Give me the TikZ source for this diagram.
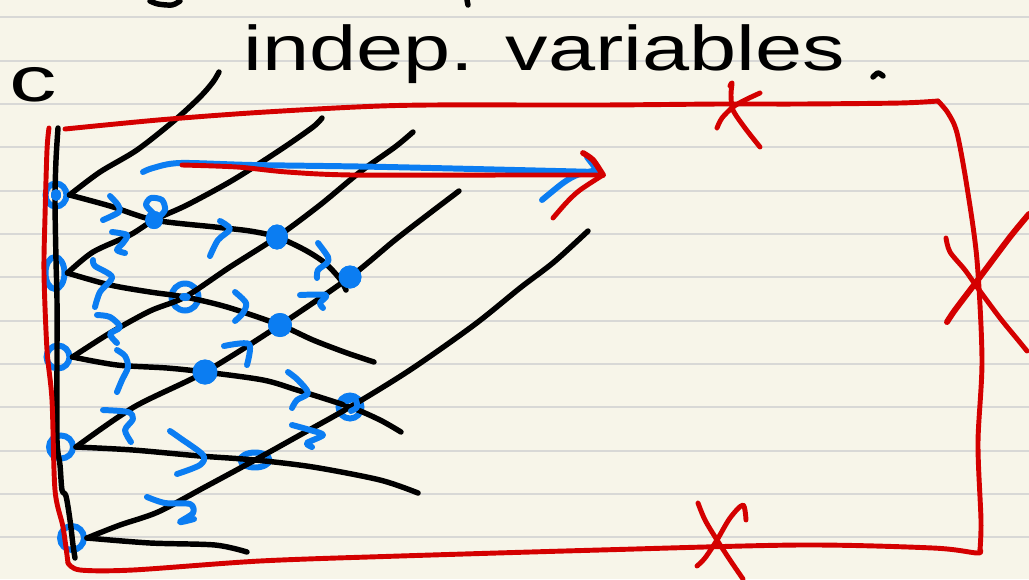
\documentclass[tikz,border=0pt]{standalone}
\usepackage{fontspec}
\newfontfamily\hand{Liberation Sans}
\usetikzlibrary{shapes.geometric}
\definecolor{paper}{HTML}{F7F5E9}
\definecolor{rule}{HTML}{D8D8D6}
\definecolor{pred}{HTML}{D40000}
\definecolor{pblue}{HTML}{0B7DF2}
\tikzset{
  ruled/.style={draw=rule, line width=1.1pt},
  ink/.style={draw=black, line width=3.1pt, line cap=round, line join=round},
  redpen/.style={draw=pred, line width=2.8pt, line cap=round, line join=round},
  bluepen/.style={draw=pblue, line width=3.4pt, line cap=round, line join=round},
  ring/.style={ellipse, draw=pblue, line width=3.4pt, inner sep=0pt},
  blob/.style={ellipse, fill=pblue, inner sep=0pt},
  handtext/.style={font=\hand\fontsize{36}{40}\selectfont, inner sep=0pt, text=black}
}
\begin{document}
\begin{tikzpicture}[x=0.02cm, y=-0.02cm]
% paper and ruling
\fill[paper] (0,0) rectangle (1029,579);
\useasboundingbox (0,0) rectangle (1029,579);
\foreach \k in {0,...,12}
  \draw[ruled] (0,17.3+43.33*\k) -- (1029,17.3+43.33*\k);

% remains of the line above
\draw[ink] plot[smooth] coordinates {(150,1) (158,4) (172,5) (180,1)};
\draw[ink] (467,0) -- (468,5);

% heading and label
\node[handtext, anchor=base west, xscale=1.34] (title) at (243,70) {indep. variables};
\node[handtext, anchor=base west, xscale=1.5] (clabel) at (9,101) {c};
\draw[ink] plot[smooth] coordinates {(873,77) (878,73) (883,76)};

% boundary nodes on the left edge
\node[ring, minimum width=0.42cm, minimum height=0.46cm] (n1) at (56,195) {};
\fill[pblue] (n1) ellipse [x radius=5, y radius=6];
\node[ring, minimum width=0.38cm, minimum height=0.64cm] (n2) at (55,273) {};
\node[ring, minimum width=0.46cm, minimum height=0.46cm] (n3) at (58,357) {};
\node[ring, minimum width=0.48cm, minimum height=0.46cm] (n4) at (61,447) {};
\node[ring, minimum width=0.48cm, minimum height=0.48cm] (n5) at (72,538) {};

% interior grid points
\node[blob, minimum width=0.36cm, minimum height=0.36cm] (x12) at (154,220) {};
\node[blob, minimum width=0.44cm, minimum height=0.5cm] (x13) at (277,237) {};
\node[blob, minimum width=0.46cm, minimum height=0.46cm] (x14) at (350,277) {};
\node[ring, minimum width=0.54cm, minimum height=0.54cm] (x23) at (185,297) {};
\fill[pblue] (x23) ellipse [x radius=6, y radius=4];
\node[blob, minimum width=0.48cm, minimum height=0.48cm] (x24) at (280,325) {};
\node[blob, minimum width=0.5cm, minimum height=0.5cm] (x34) at (205,372) {};
\node[ring, minimum width=0.46cm, minimum height=0.46cm] (x35) at (350,407) {};
\node[ring, minimum width=0.58cm, minimum height=0.3cm] (x45) at (255,460) {};

% left edge line
\draw[ink] plot[smooth] coordinates {(58,128) (56,160) (55,200) (56,260) (57,300) (57,360)
  (57,440) (60,465) (62,490) (66,496) (70,520) (73,545) (75,558)};

% characteristics leaving each boundary node downward-right
\draw[ink] plot[smooth] coordinates {(n1.east) (110,206) (x12.center) (215,227) (250,231)
  (x13.center) (305,250) (325,263) (340,279) (346,290)};
\draw[ink] plot[smooth] coordinates {(n2.east) (110,285) (150,292) (x23.center) (227,307)
  (x24.center) (313,340) (347,353) (374,362)};
\draw[ink] plot[smooth] coordinates {(n3.east) (117,365) (167,368) (x34.center) (263,380)
  (297,390) (x35.center) (380,420) (401,432)};
\draw[ink] plot[smooth] coordinates {(n4.east) (133,450) (200,456) (x45.center) (313,467)
  (380,480) (418,493)};
\draw[ink] plot[smooth] coordinates {(n5.east) (150,543) (215,545) (247,552)};

% characteristics leaving each boundary node upward-right
\draw[ink] plot[smooth] coordinates {(n1.east) (100,172) (137,150) (175,120) (200,97)
  (213,82) (219,72)};
\draw[ink] plot[smooth] coordinates {(n2.east) (93,252) (130,235) (x12.center) (187,205)
  (233,180) (280,150) (313,127) (322,118)};
\draw[ink] plot[smooth] coordinates {(n3.east) (110,333) (150,311) (x23.center) (230,267)
  (x13.center) (320,205) (360,172) (395,147) (413,132)};
\draw[ink] plot[smooth] coordinates {(n4.east) (134,407) (x34.center) (x24.center)
  (x14.center) (395,240) (430,213) (459,191)};
\draw[ink] plot[smooth] coordinates {(n5.east) (120,525) (158,512) (205,487) (x45.center)
  (300,435) (x35.center) (410,370) (474,325) (520,288) (554,262) (588,231)};

% redraw the grid points over the lines
\node[blob, minimum width=0.36cm, minimum height=0.36cm] at (x12) {};
\node[blob, minimum width=0.44cm, minimum height=0.5cm] at (x13) {};
\node[blob, minimum width=0.46cm, minimum height=0.46cm] at (x14) {};
\node[blob, minimum width=0.48cm, minimum height=0.48cm] at (x24) {};
\node[blob, minimum width=0.5cm, minimum height=0.5cm] at (x34) {};
\fill[pblue] (x23) ellipse [x radius=6, y radius=4];
\fill[pblue] (n1) ellipse [x radius=5, y radius=6];

% domain boundary
\draw[redpen] plot[smooth] coordinates {(65,129) (158,120) (250,113) (356,107) (430,105)
  (600,105) (720,104) (800,104) (900,103) (938,101)};
\draw[redpen] plot[smooth] coordinates {(938,101) (948,113) (957,133) (967,187) (977,260)
  (982,360) (978,443) (981,520) (980,550)};
\draw[redpen] plot[smooth] coordinates {(980,550) (977,553) (933,548) (800,545) (600,550)
  (400,556) (260,561) (133,570) (80,570) (68,563)};
\draw[redpen] plot[smooth] coordinates {(68,563) (63,527) (55,490) (52,400) (47,350)
  (44,273) (45,217) (47,150) (49,128)};

% crosses on the boundary
\draw[redpen] plot[smooth] coordinates {(730,86) (732,83) (731,95) (733,110) (745,128) (760,147)};
\draw[redpen] plot[smooth] coordinates {(760,93) (745,100) (733,107) (722,118) (717,128)};
\draw[redpen] plot[smooth] coordinates {(946,238) (950,252) (965,270) (977,287) (1000,318)
  (1018,340) (1027,351)};
\draw[redpen, line width=3.4pt] plot[smooth] coordinates {(947,322) (955,310) (980,277)
  (1010,237) (1029,214)};
\draw[redpen] plot[smooth] coordinates {(698,503) (705,520) (717,540) (730,560) (743,579)};
\draw[redpen] plot[smooth] coordinates {(697,566) (705,558) (717,540) (730,518) (743,505)
  (746,520)};

% extra strokes on the grid points
\draw[bluepen] plot[smooth] coordinates {(153,213) (146,205) (151,198) (162,200) (165,210)
  (158,218)};
\draw[bluepen] plot[smooth] coordinates {(347,401) (355,399) (357,407) (351,411)};

% little arrows along the characteristics
\foreach \m in {
  {(110,196) (118,205) (119,212) (103,220)},
  {(112,232) (127,235) (123,243) (117,250) (125,253)},
  {(93,260) (95,266) (112,277) (100,292) (95,307)},
  {(97,315) (110,317) (120,327) (110,334) (117,343)},
  {(117,350) (125,356) (128,367) (122,380) (117,392)},
  {(220,221) (230,229) (218,240) (210,256)},
  {(235,292) (246,303) (243,313) (235,321)},
  {(224,346) (249,344) (247,365)},
  {(103,410) (128,412) (133,419) (125,430) (131,442)},
  {(170,431) (180,438) (203,455) (200,465) (177,474)},
  {(147,497) (165,503) (190,504) (193,513) (180,522) (194,519)},
  {(318,243) (328,257) (327,263) (318,270) (317,278)},
  {(300,295) (326,295) (320,303) (323,308)},
  {(288,372) (298,380) (308,393) (297,400) (292,408)},
  {(292,425) (310,430) (323,435) (307,443) (312,447)}}
  \draw[bluepen] plot[smooth] coordinates \m;

% direction of integration
\draw[bluepen] plot[smooth] coordinates {(143,172) (153,168) (180,163) (253,165) (387,167)
  (597,172)};
\draw[bluepen] plot[smooth] coordinates {(542,200) (563,183) (577,175) (597,170)};
\draw[bluepen] (587,157) -- (597,170);
\draw[redpen] plot[smooth] coordinates {(182,165) (237,167) (287,172) (353,175) (520,175)
  (603,175)};
\draw[redpen, line width=3.3pt] plot[smooth] coordinates {(583,153) (593,160) (603,175)};
\draw[redpen] plot[smooth] coordinates {(603,175) (580,190) (567,202) (553,218)};
\end{tikzpicture}
\end{document}
